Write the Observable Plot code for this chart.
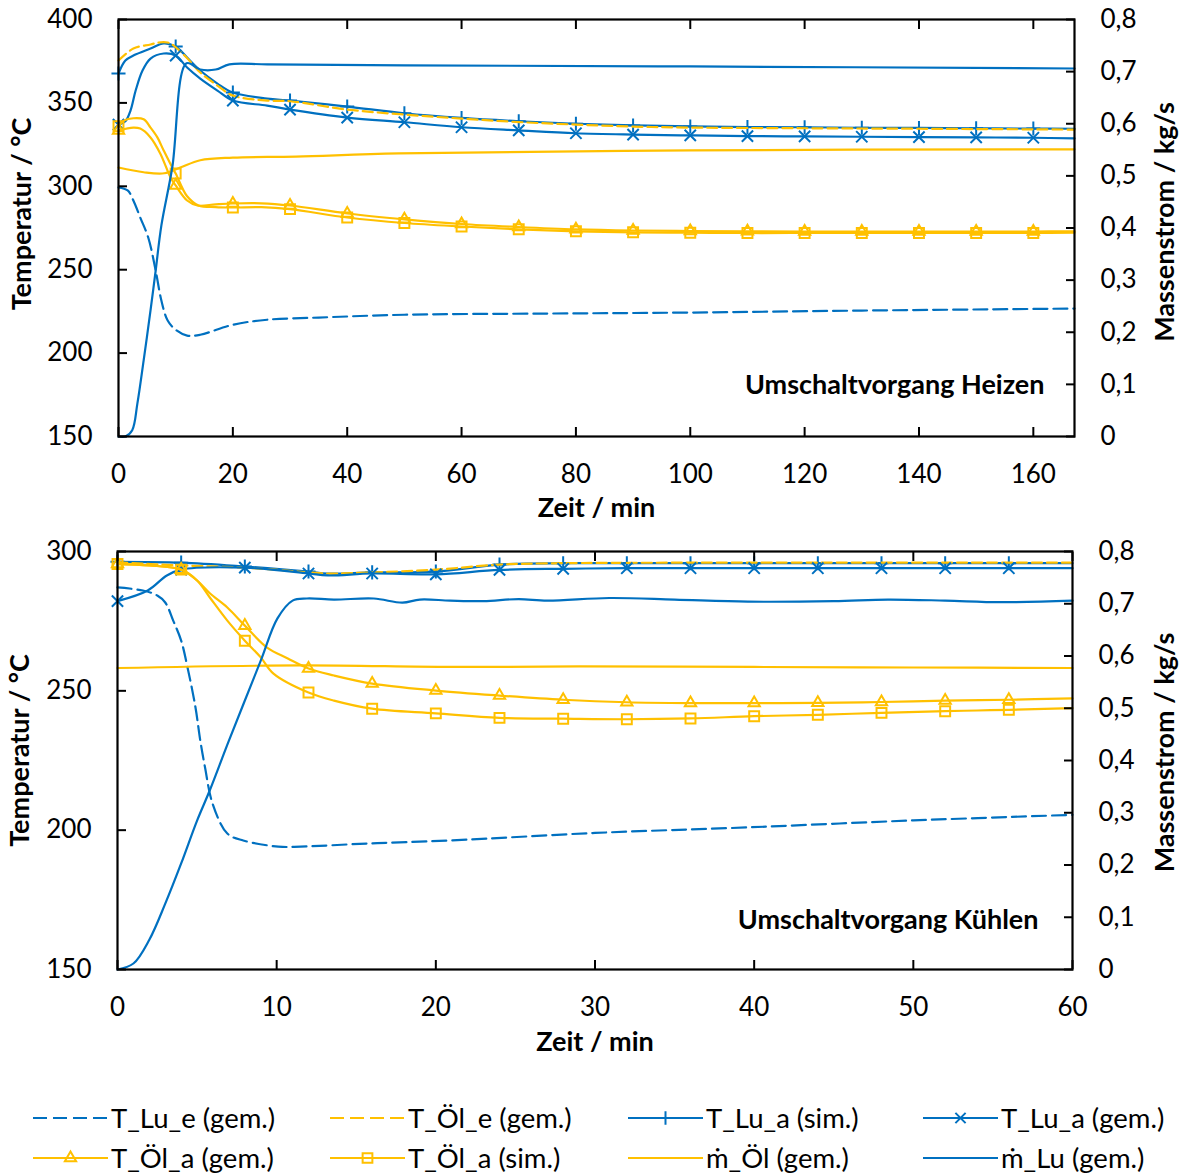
<!DOCTYPE html>
<html><head><meta charset="utf-8">
<script src="https://cdn.jsdelivr.net/npm/d3@7"></script>
<script src="https://cdn.jsdelivr.net/npm/@observablehq/plot@0.6"></script>
<style>
body{margin:0;background:#fff;font-family:Lato, "Noto Sans", sans-serif;}
#chart{width:1183px;}
#chart svg{display:block;}
</style></head><body><div id="chart"></div>
<script>
const BLUE = "#0070C0", YELLOW = "#FFC000";

// ---------- Umschaltvorgang Heizen (top) ----------
const hzXTicks = [0, 20, 40, 60, 80, 100, 120, 140, 160];
const hzTTicks = [150, 200, 250, 300, 350, 400];
const hzMTicks = [0, 0.1, 0.2, 0.3, 0.4, 0.5, 0.6, 0.7, 0.8];
const hzMarkT = [0, 10, 20, 30, 40, 50, 60, 70, 80, 90, 100, 110, 120, 130, 140, 150, 160];

const hzTLuE_t = [0, 1.6, 2.6, 3.8, 5.2, 6.5, 7.5, 8.6, 10, 12, 14.3, 20, 26, 35, 50, 75, 100, 130, 167.2];
const hzTLuE   = [299.3, 297.5, 291.5, 281.3, 269.3, 249.5, 231.5, 219.5, 214, 210.5, 211, 217, 220, 221.3, 223, 223.7, 224.3, 225.5, 226.7];

const hzTOelE_t = [0, 2.6, 5.6, 7, 8.6, 9.4, 11.9, 14.3, 17.3, 20, 26, 30, 40, 50, 60, 70, 80, 90, 100, 120, 140, 167.2];
const hzTOelE   = [375.4, 382.6, 385, 386.2, 386.2, 385, 377.2, 368.2, 360.4, 354.4, 351.4, 351, 346, 343, 340.6, 338.5, 337, 335.8, 335.2, 334.8, 334.5, 334];

const hzTLuAsim_t = [0, 1.2, 2.6, 5.6, 7.9, 10, 12, 14.3, 17.3, 20, 26, 30, 40, 50, 60, 70, 80, 90, 100, 110, 120, 130, 140, 150, 160, 167.2];
const hzTLuAsim   = [367.6, 375.4, 378.4, 382.6, 385.6, 383.8, 377.2, 369.4, 361.6, 356.2, 352.6, 351.4, 347.8, 343.8, 341, 339, 337.5, 336.5, 335.9, 335.5, 335.4, 335.1, 335, 334.8, 334.6, 334.5];

const hzTLuAgem_t = [0, 1.2, 2.1, 3, 4.2, 5.6, 7.9, 10, 12, 14.3, 17.3, 20, 26, 30, 40, 50, 60, 70, 80, 90, 100, 110, 120, 130, 140, 150, 160, 167.2];
const hzTLuAgem   = [337, 339, 345.4, 357.4, 369.4, 376.6, 379.6, 378.4, 371.2, 364.6, 357.4, 351.4, 348.4, 346, 341.2, 338.4, 335.4, 333.5, 331.8, 331, 330.5, 330.1, 329.9, 329.7, 329.5, 329.3, 329.1, 328.7];

const hzTOelAgem_t = [0, 2.6, 3.8, 5.6, 7.3, 9.1, 10, 12, 13.8, 17, 20, 25, 30, 40, 50, 60, 70, 80, 90, 100, 110, 120, 130, 140, 150, 160, 167.2];
const hzTOelAgem   = [333.5, 335.2, 334.6, 329.3, 319.7, 305.3, 300.5, 291.5, 288.5, 289.2, 289.7, 289.8, 288.5, 283.7, 280.2, 277.4, 275.6, 274.2, 273.5, 273.2, 273, 272.9, 272.9, 272.9, 272.9, 272.9, 273];

const hzTOelAsim_t = [0, 1, 2.6, 4.4, 5.6, 6.8, 7.9, 9.4, 10, 12, 14, 17, 20, 25, 30, 40, 50, 60, 70, 80, 90, 100, 110, 120, 130, 140, 150, 160, 167.2];
const hzTOelAsim   = [336, 339.5, 340.8, 340.2, 335.2, 329.3, 321.5, 311.3, 307.7, 294, 288.5, 287.5, 287.3, 287.5, 286.3, 281.3, 278, 275.9, 274.2, 273, 272.4, 272.2, 272, 272, 272, 272, 272, 272, 272.2];

const hzMOel_t = [0, 4.4, 8, 10.8, 14.3, 20, 31, 49, 100, 167.2];
const hzMOel   = [0.516, 0.507, 0.505, 0.516, 0.530, 0.535, 0.537, 0.543, 0.549, 0.551];

const hzMLu_t = [0, 1.2, 2.4, 3.3, 4.4, 5.6, 6.5, 7.5, 9.4, 11.9, 14.3, 17, 19.4, 26, 50, 100, 167.2];
const hzMLu   = [0, 0, 0.012, 0.063, 0.146, 0.242, 0.318, 0.405, 0.516, 0.716, 0.704, 0.704, 0.714, 0.714, 0.712, 0.710, 0.706];

// ---------- Umschaltvorgang Kühlen (bottom) ----------
const klXTicks = [0, 10, 20, 30, 40, 50, 60];
const klTTicks = [150, 200, 250, 300];
const klMTicks = [0, 0.1, 0.2, 0.3, 0.4, 0.5, 0.6, 0.7, 0.8];
const klMarkT = [0, 4, 8, 12, 16, 20, 24, 28, 32, 36, 40, 44, 48, 52, 56];

const klTLuE_t = [0, 1.6, 2.5, 3.0, 3.5, 4.0, 4.4, 4.9, 5.2, 5.5, 5.97, 6.9, 7.9, 10.1, 11.5, 15.7, 20.9, 30, 39.6, 50, 60];
const klTLuE   = [287.1, 286, 284.2, 281.7, 275.2, 268, 258.4, 244, 232.2, 222.5, 209.6, 198.8, 196.3, 194.1, 194.1, 195.2, 196.3, 199, 201, 203.5, 205.5];

const klTOelE_t = [0, 4, 8, 12, 13.2, 16, 20, 24, 28, 40, 60];
const klTOelE   = [296.1, 295, 294.2, 292.5, 292.1, 292.5, 293.5, 295.3, 295.8, 296, 296];

const klTLuAsim_t = [0, 4, 8, 12, 13.2, 16, 20, 24, 28, 32, 36, 40, 44, 48, 52, 56, 60];
const klTLuAsim   = [296.3, 296, 294.6, 292.8, 292.1, 292.5, 292.8, 295.3, 295.8, 295.8, 295.8, 295.8, 295.8, 295.8, 295.8, 295.8, 295.8];

const klTLuAgem_t = [0, 1.9, 3.1, 4, 8, 12, 13.2, 16, 20, 24, 28, 32, 36, 40, 44, 48, 52, 56, 60];
const klTLuAgem   = [282.2, 286, 291.4, 293.5, 294.2, 292.1, 291.4, 292.1, 291.8, 293.4, 293.8, 294, 294, 294, 294, 294, 294, 294, 294];

const klTOelAgem_t = [0, 2, 4, 5, 5.8, 6.9, 8, 9.4, 10.7, 12, 13.6, 16, 20, 24, 28, 32, 36, 40, 44, 48, 52, 56, 60];
const klTOelAgem   = [295.5, 295, 293.5, 289.6, 285, 279.9, 273.4, 265.5, 261.6, 258, 255.5, 252.6, 250.1, 248.3, 246.8, 245.9, 245.6, 245.6, 245.7, 246, 246.5, 246.8, 247.3];

const klTOelAsim_t = [0, 2, 4, 5, 5.8, 6.9, 8, 9, 9.8, 12, 13.6, 16, 20, 24, 28, 32, 36, 40, 44, 48, 52, 56, 60];
const klTOelAsim   = [295.5, 295, 293.5, 289.6, 283.5, 275.2, 268, 262, 256.2, 249.4, 246.5, 243.6, 241.9, 240.3, 240, 239.8, 240.1, 240.9, 241.4, 242.1, 242.7, 243.2, 243.8];

const klMOel_t = [0, 11.5, 20.9, 29, 40, 50, 60];
const klMOel   = [0.577, 0.582, 0.579, 0.580, 0.579, 0.578, 0.577];

const klMLu_t = [0, 1.0, 2.0, 3.0, 4.0, 5.0, 5.8, 7.0, 9.0, 10.05, 11.0, 11.9, 13.6, 16.1, 17.9, 19.0, 20.9, 23, 25.2, 27, 30.9, 35, 39.6, 45, 48.4, 52, 55.5, 60];
const klMLu   = [0, 0.0115, 0.057, 0.126, 0.203, 0.285, 0.343, 0.438, 0.591, 0.672, 0.706, 0.710, 0.708, 0.710, 0.702, 0.708, 0.706, 0.705, 0.709, 0.706, 0.711, 0.708, 0.704, 0.705, 0.708, 0.706, 0.703, 0.706];

// ---------- legend ----------
const legendLabels = ["T_Lu_e (gem.)", "T_Öl_e (gem.)", "T_Lu_a (sim.)", "T_Lu_a (gem.)",
                      "T_Öl_a (gem.)", "T_Öl_a (sim.)", "ṁ_Öl (gem.)", "ṁ_Lu (gem.)"];

const FONT = "Lato, 'Noto Sans', sans-serif";
const pairs = (t, v) => t.map((x, i) => ({t: x, v: v[i]}));
const fmtM = m => Math.abs(m) < 1e-9 ? "0" : m.toFixed(1).replace(".", ",");
const noText = () => "";

function makeChart(c) {
  const k = (c.yDomain[1] - c.yDomain[0]) / 0.8; // °C per kg/s
  const toT = m => c.yDomain[0] + m * k;
  const marks = [];
  const lineOf = (s) => Plot.line(s.data, {
    x: "t", y: s.mass ? (d => toT(d.v)) : "v",
    stroke: s.color, strokeWidth: 2.2, strokeDasharray: s.dash || null, curve: "catmull-rom"
  });
  const dotsOf = (s) => Plot.dot(s.data.filter(d => c.markT.includes(d.t)), {
    x: "t", y: "v", symbol: s.symbol, r: s.r, stroke: s.color, fill: "none", strokeWidth: 2
  });
  for (const s of c.series) {
    marks.push(lineOf(s));
    if (s.symbol) marks.push(dotsOf(s));
  }
  const title = {text: d => d, fontWeight: "bold", fontSize: 27, lineAnchor: "middle"};
  marks.push(
    Plot.frame({stroke: "black", strokeWidth: 2.2}),
    Plot.axisX(c.xTicks, {anchor: "bottom", tickSize: 9, dy: -9, tickFormat: noText, label: null, strokeWidth: 2}),
    Plot.axisX(c.xTicks, {anchor: "top", tickSize: 9, dy: 9, tickFormat: noText, label: null, strokeWidth: 2}),
    Plot.axisY(c.tTicks, {anchor: "left", tickSize: 9, dx: 9, tickFormat: noText, label: null, strokeWidth: 2}),
    Plot.axisY(c.mTicks.map(toT), {anchor: "right", tickSize: 9, dx: -9, tickFormat: noText, label: null, strokeWidth: 2}),
    Plot.axisX(c.xTicks, {anchor: "bottom", tickSize: 0, tickPadding: 28, label: null, tickFormat: d => String(d)}),
    Plot.axisY(c.tTicks, {anchor: "left", tickSize: 0, tickPadding: 26, label: null, tickFormat: d => String(d)}),
    Plot.axisY(c.mTicks.map(toT), {anchor: "right", tickSize: 0, tickPadding: 26, label: null, tickFormat: t => fmtM((t - c.yDomain[0]) / k)}),
    Plot.text(["Zeit / min"], {...title, frameAnchor: "bottom", textAnchor: "middle", dy: c.xTitleDy}),
    Plot.text(["Temperatur / °C"], {...title, frameAnchor: "left", textAnchor: "middle", rotate: -90, dx: c.yTitleDx, dy: c.yTitleDy}),
    Plot.text(["Massenstrom / kg/s"], {...title, frameAnchor: "right", textAnchor: "middle", rotate: -90, dx: c.y2TitleDx, dy: c.y2TitleDy}),
    Plot.text([c.note], {...title, frameAnchor: "bottom-right", textAnchor: "end", dx: c.noteDx, dy: c.noteDy})
  );
  return Plot.plot({
    width: 1183, height: c.height,
    marginTop: c.mt, marginBottom: c.mb, marginLeft: c.ml, marginRight: c.mr,
    x: {domain: c.xDomain}, y: {domain: c.yDomain},
    style: {fontFamily: FONT, fontSize: "26px", color: "black", background: "white", overflow: "visible"},
    marks
  });
}

function buildSeries(d) {
  return [
    {data: pairs(d.TLuE_t, d.TLuE), color: BLUE, dash: "14,6"},
    {data: pairs(d.TLuAsim_t, d.TLuAsim), color: BLUE, symbol: "plus", r: 4.6},
    {data: pairs(d.TOelE_t, d.TOelE), color: YELLOW, dash: "10,5"},
    {data: pairs(d.TLuAgem_t, d.TLuAgem), color: BLUE, symbol: "times", r: 5.2},
    {data: pairs(d.TOelAgem_t, d.TOelAgem), color: YELLOW, symbol: "triangle", r: 4.2},
    {data: pairs(d.TOelAsim_t, d.TOelAsim), color: YELLOW, symbol: "square", r: 5.6},
    {data: pairs(d.MOel_t, d.MOel), color: YELLOW, mass: true},
    {data: pairs(d.MLu_t, d.MLu), color: BLUE, mass: true}
  ];
}

const chartTop = makeChart({
  height: 530, mt: 19, mb: 94, ml: 118, mr: 109,
  xDomain: [0, 167.2], yDomain: [150, 400],
  xTicks: hzXTicks, tTicks: hzTTicks, mTicks: hzMTicks, markT: hzMarkT,
  xTitleDy: 72, yTitleDx: -96, yTitleDy: -14, y2TitleDx: 91, y2TitleDy: -6, noteDx: -30, noteDy: -51,
  note: "Umschaltvorgang Heizen",
  series: buildSeries({TLuE_t: hzTLuE_t, TLuE: hzTLuE, TLuAsim_t: hzTLuAsim_t, TLuAsim: hzTLuAsim,
    TOelE_t: hzTOelE_t, TOelE: hzTOelE, TLuAgem_t: hzTLuAgem_t, TLuAgem: hzTLuAgem,
    TOelAgem_t: hzTOelAgem_t, TOelAgem: hzTOelAgem, TOelAsim_t: hzTOelAsim_t, TOelAsim: hzTOelAsim,
    MOel_t: hzMOel_t, MOel: hzMOel, MLu_t: hzMLu_t, MLu: hzMLu})
});

const chartBottom = makeChart({
  height: 535, mt: 21, mb: 96, ml: 117, mr: 111,
  xDomain: [0, 60], yDomain: [150, 300],
  xTicks: klXTicks, tTicks: klTTicks, mTicks: klMTicks, markT: klMarkT,
  xTitleDy: 73, yTitleDx: -97, yTitleDy: -10, y2TitleDx: 93, y2TitleDy: -8, noteDx: -34, noteDy: -49,
  note: "Umschaltvorgang Kühlen",
  series: buildSeries({TLuE_t: klTLuE_t, TLuE: klTLuE, TLuAsim_t: klTLuAsim_t, TLuAsim: klTLuAsim,
    TOelE_t: klTOelE_t, TOelE: klTOelE, TLuAgem_t: klTLuAgem_t, TLuAgem: klTLuAgem,
    TOelAgem_t: klTOelAgem_t, TOelAgem: klTOelAgem, TOelAsim_t: klTOelAsim_t, TOelAsim: klTOelAsim,
    MOel_t: klMOel_t, MOel: klMOel, MLu_t: klMLu_t, MLu: klMLu})
});

const root = document.getElementById("chart");
root.appendChild(chartTop);
root.appendChild(chartBottom);

// legend
const leg = d3.create("svg").attr("width", 1183).attr("height", 108)
  .style("font-family", FONT).style("font-size", "27.5px").style("display", "block");
const legStyle = [
  {color: BLUE, dash: "14,6"}, {color: YELLOW, dash: "14,6"},
  {color: BLUE, symbol: d3.symbolPlus, size: 60}, {color: BLUE, symbol: d3.symbolTimes, size: 70},
  {color: YELLOW, symbol: d3.symbolTriangle, size: 55}, {color: YELLOW, symbol: d3.symbolSquare, size: 95},
  {color: YELLOW}, {color: BLUE}
];
const colX = [33, 330, 628, 923];
const rowY = [53, 93];
legendLabels.forEach((lab, i) => {
  const x0 = colX[i % 4], y0 = rowY[Math.floor(i / 4)], st = legStyle[i];
  const g = leg.append("g");
  g.append("line").attr("x1", x0).attr("x2", x0 + 75).attr("y1", y0).attr("y2", y0)
    .attr("stroke", st.color).attr("stroke-width", 2.2).attr("stroke-dasharray", st.dash || null);
  if (st.symbol) {
    g.append("path").attr("d", d3.symbol(st.symbol, st.size)())
      .attr("transform", `translate(${x0 + 37.5},${y0})`)
      .attr("fill", "none").attr("stroke", st.color).attr("stroke-width", 2);
  }
  g.append("text").attr("x", x0 + 78).attr("y", y0).attr("dy", "0.35em").text(lab);
});
root.appendChild(leg.node());
</script>
</body></html>
